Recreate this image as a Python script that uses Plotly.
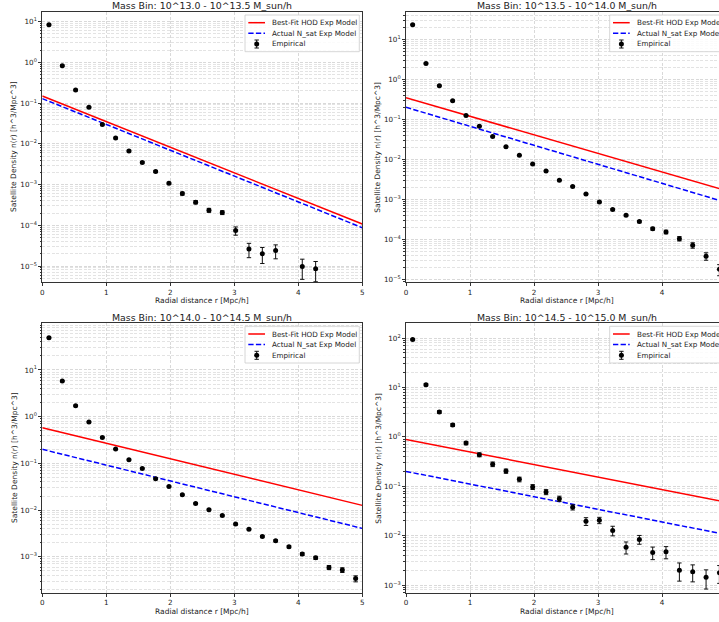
import plotly.graph_objects as go

W, H = 719, 622

# ---------------- data ----------------
r_centers = [0.104, 0.312, 0.521, 0.729, 0.938, 1.146, 1.354, 1.562, 1.771, 1.979,
             2.188, 2.396, 2.604, 2.812, 3.021, 3.229, 3.438, 3.646, 3.854, 4.062,
             4.271, 4.479, 4.688, 4.896]

titles = ["Mass Bin: 10^13.0 - 10^13.5 M_sun/h",
          "Mass Bin: 10^13.5 - 10^14.0 M_sun/h",
          "Mass Bin: 10^14.0 - 10^14.5 M_sun/h",
          "Mass Bin: 10^14.5 - 10^15.0 M_sun/h"]

emp_1 = [8.4, 0.83, 0.21, 0.079, 0.030, 0.0139, 0.0067, 0.0035, 0.0021, 0.00107,
         6.0e-4, 3.7e-4, 2.34e-4, 2.05e-4, 7.4e-5, 2.6e-5, 2.0e-5, 2.4e-5, None, 9.7e-6,
         8.5e-6, None, None, None]
err_1 = [0.25, 0.03, 0.008, 0.003, 0.0012, 0.0006, 0.0003, 0.00017, 0.00012, 0.00007,
         5.0e-5, 3.5e-5, 2.6e-5, 2.2e-5, 1.7e-5, 1.0e-5, 0.85e-5, 0.9e-5, None, 0.5e-5,
         0.44e-5, None, None, None]

emp_2 = [23.3, 2.5, 0.69, 0.29, 0.124, 0.067, 0.037, 0.0207, 0.0126, 0.0076,
         0.0051, 0.0030, 0.0021, 0.00136, 8.6e-4, 5.6e-4, 4.0e-4, 2.77e-4, 1.85e-4, 1.53e-4,
         1.04e-4, 7.1e-5, 3.8e-5, 1.78e-5]
err_2 = [0.5, 0.08, 0.02, 0.008, 0.003, 0.0015, 0.0008, 0.0004, 0.00025, 0.00016,
         0.0001, 7e-5, 5e-5, 4e-5, 3e-5, 2.4e-5, 2.0e-5, 1.7e-5, 1.5e-5, 1.6e-5,
         1.3e-5, 1.1e-5, 0.8e-5, 0.55e-5]

emp_3 = [49.0, 5.8, 1.72, 0.77, 0.36, 0.203, 0.12, 0.078, 0.047, 0.032,
         0.0213, 0.0139, 0.0102, 0.0076, 0.0050, 0.0039, 0.00273, 0.0022, 0.00164, 0.00114,
         9.5e-4, 5.9e-4, 5.2e-4, 3.4e-4]
err_3 = [0.8, 0.15, 0.05, 0.02, 0.009, 0.005, 0.003, 0.002, 0.0012, 0.0009,
         0.0006, 0.0004, 0.0003, 0.00025, 0.0002, 0.00015, 0.00012, 0.0001, 9e-5, 8e-5,
         7e-5, 6e-5, 6e-5, 5e-5]

emp_4 = [94.0, 11.4, 3.2, 1.75, 0.75, 0.435, 0.28, 0.203, 0.138, 0.097,
         0.0766, 0.056, 0.0376, 0.0196, 0.0205, 0.0127, 0.00585, 0.0084, 0.00457, 0.0047,
         0.0020, 0.00186, 0.00143, 0.00178]
err_4 = [3.0, 0.6, 0.2, 0.12, 0.06, 0.04, 0.03, 0.02, 0.015, 0.011,
         0.009, 0.007, 0.0045, 0.0035, 0.003, 0.0028, 0.0016, 0.0017, 0.0013, 0.0013,
         0.0008, 0.0007, 0.0006, 0.0007]

# model line endpoints (r = 0 and r = 5)
line_r = [0.0, 5.0]
bestfit_1 = [0.150, 1.07e-4]
actual_1 = [0.129, 8.7e-5]
bestfit_2 = [0.348, 1.65e-3]
actual_2 = [0.200, 8.4e-4]
bestfit_3 = [0.580, 0.0126]
actual_3 = [0.200, 0.00405]
bestfit_4 = [0.885, 0.048]
actual_4 = [0.200, 0.0105]

x_ticks = [0, 1, 2, 3, 4, 5]
y_exponents_1 = [-5, -4, -3, -2, -1, 0, 1]
y_exponents_2 = [-5, -4, -3, -2, -1, 0, 1]
y_exponents_3 = [-3, -2, -1, 0, 1]
y_exponents_4 = [-3, -2, -1, 0, 1, 2]

legend_labels = ["Best-Fit HOD Exp Model", "Actual N_sat Exp Model", "Empirical"]
x_label = "Radial distance r [Mpc/h]"
y_label = "Satellite Density n(r) [h^3/Mpc^3]"

# ---------------- layout geometry (px) ----------------
FONT = "DejaVu Sans"
TXT = "#222222"
AX = "#333333"
FS = 7.2
FS_LAB = 7.5
FS_T = 9.4

panels = [
    dict(emp=emp_1, err=err_1, red=bestfit_1, blue=actual_1, exps=y_exponents_1,
         yr=[-5.393, 1.237], left=42.3, right=362.3, top=12.0, bottom=282.0, xr=[0, 5]),
    dict(emp=emp_2, err=err_2, red=bestfit_2, blue=actual_2, exps=y_exponents_2,
         yr=[-5.067, 1.683], left=406.0, right=727.0, top=12.0, bottom=282.0, xr=[0, 4.89]),
    dict(emp=emp_3, err=err_3, red=bestfit_3, blue=actual_3, exps=y_exponents_3,
         yr=[-3.77, 2.0], left=42.3, right=362.3, top=323.3, bottom=592.7, xr=[0, 5]),
    dict(emp=emp_4, err=err_4, red=bestfit_4, blue=actual_4, exps=y_exponents_4,
         yr=[-3.155, 2.30], left=406.0, right=727.0, top=323.3, bottom=592.7, xr=[0, 4.89]),
]


def px(x):
    return x / W


def py(y):
    return 1 - y / H


def sup(e):
    s = str(abs(e))
    return "10<sup>" + ("\u2212" if e < 0 else "") + s + "</sup>"


fig = go.Figure()
shapes = []
annotations = []

for i, p in enumerate(panels):
    n = i + 1
    xa = "x" if n == 1 else f"x{n}"
    ya = "y" if n == 1 else f"y{n}"
    xkey = "xaxis" if n == 1 else f"xaxis{n}"
    ykey = "yaxis" if n == 1 else f"yaxis{n}"
    is_right = n in (2, 4)

    fig.add_trace(go.Scatter(x=line_r, y=p["red"], mode="lines",
                             line=dict(color="#ff0000", width=1.5),
                             xaxis=xa, yaxis=ya, showlegend=False))
    fig.add_trace(go.Scatter(x=line_r, y=p["blue"], mode="lines",
                             line=dict(color="#0000ff", width=1.5, dash="5.3px,2.3px"),
                             xaxis=xa, yaxis=ya, showlegend=False))
    fig.add_trace(go.Scatter(x=r_centers, y=p["emp"], mode="markers",
                             marker=dict(color="black", size=5),
                             error_y=dict(type="data", array=p["err"], color="#111111",
                                          thickness=1, width=2.2),
                             xaxis=xa, yaxis=ya, showlegend=False))

    dom_x = [px(p["left"]), min(1.0, px(p["right"]))]
    dom_y = [py(p["bottom"]), py(p["top"])]
    lo, hi = p["exps"][0] - 1, p["exps"][-1] + 2
    minor_vals = [m * 10.0 ** e for e in range(lo, hi) for m in range(2, 10)]

    fig.layout[xkey] = dict(
        domain=dom_x, range=p["xr"], anchor=ya, tickmode="array", tickvals=x_ticks,
        ticktext=[str(t) for t in x_ticks], ticks="outside", ticklen=3, tickwidth=0.8,
        tickcolor=AX, showline=True, linecolor=AX, linewidth=0.9, mirror=True,
        showgrid=True, gridcolor="#d9d9d9", gridwidth=0.6, griddash="3px,1.6px",
        zeroline=False, tickfont=dict(family=FONT, size=FS, color=TXT))
    fig.layout[ykey] = dict(
        domain=dom_y, type="log", range=p["yr"], anchor=xa, tickmode="array",
        tickvals=[10.0 ** e for e in p["exps"]], ticktext=[sup(e) for e in p["exps"]],
        ticks="outside", ticklen=3, tickwidth=0.8, tickcolor=AX,
        showline=True, linecolor=AX, linewidth=0.9, mirror=(not is_right),
        showgrid=True, gridcolor="#d9d9d9", gridwidth=0.6, griddash="3px,1.6px",
        zeroline=False, tickfont=dict(family=FONT, size=FS, color=TXT),
        minor=dict(tickmode="array", tickvals=minor_vals, ticks="outside", ticklen=1.8,
                   tickwidth=0.6, tickcolor=AX, showgrid=True, gridcolor="#e3e3e3",
                   gridwidth=0.5, griddash="3px,1.6px"))

    cx = (p["left"] + p["right"]) / 2
    cy = (p["top"] + p["bottom"]) / 2
    annotations.append(dict(text=titles[i], x=px(cx), y=py(p["top"] - 6.3), xref="paper", yref="paper",
                            xanchor="center", yanchor="middle", showarrow=False,
                            font=dict(family=FONT, size=FS_T, color=TXT)))
    annotations.append(dict(text=x_label, x=px(cx), y=py(p["bottom"] + 18.3), xref="paper",
                            yref="paper", xanchor="center", yanchor="middle", showarrow=False,
                            font=dict(family=FONT, size=FS_LAB, color=TXT)))
    annotations.append(dict(text=y_label, x=px(p["left"] - 28.3), y=py(cy), xref="paper",
                            yref="paper", xanchor="center", yanchor="middle", showarrow=False,
                            textangle=-90, font=dict(family=FONT, size=FS_LAB, color=TXT)))

    # legend box
    bx1 = p["right"] - 3
    bx0 = bx1 - 114.3
    by0 = p["top"] + 3
    by1 = by0 + 36.7
    shapes.append(dict(type="rect", xref="paper", yref="paper", x0=px(bx0), x1=px(bx1),
                       y0=py(by1), y1=py(by0), fillcolor="rgba(255,255,255,0.85)",
                       line=dict(color="#cccccc", width=0.8), layer="above"))
    rows = [by0 + 7.7, by0 + 18.3, by0 + 29.0]
    shapes.append(dict(type="line", xref="paper", yref="paper", x0=px(bx0 + 3.3), x1=px(bx0 + 20),
                       y0=py(rows[0]), y1=py(rows[0]), line=dict(color="#ff0000", width=1.5),
                       layer="above"))
    shapes.append(dict(type="line", xref="paper", yref="paper", x0=px(bx0 + 3.3), x1=px(bx0 + 20),
                       y0=py(rows[1]), y1=py(rows[1]),
                       line=dict(color="#0000ff", width=1.5, dash="5.3px,2.3px"), layer="above"))
    mx = bx0 + 11.7
    shapes.append(dict(type="line", xref="paper", yref="paper", x0=px(mx), x1=px(mx),
                       y0=py(rows[2] - 4), y1=py(rows[2] + 4),
                       line=dict(color="#111111", width=1), layer="above"))
    for dy in (-4, 4):
        shapes.append(dict(type="line", xref="paper", yref="paper", x0=px(mx - 2.2), x1=px(mx + 2.2),
                           y0=py(rows[2] + dy), y1=py(rows[2] + dy),
                           line=dict(color="#111111", width=1), layer="above"))
    shapes.append(dict(type="circle", xref="paper", yref="paper", x0=px(mx - 2.5), x1=px(mx + 2.5),
                       y0=py(rows[2] + 2.5), y1=py(rows[2] - 2.5), fillcolor="black",
                       line=dict(width=0), layer="above"))
    for k, lab in enumerate(legend_labels):
        annotations.append(dict(text=lab, x=px(bx0 + 25), y=py(rows[k]), xref="paper", yref="paper",
                                xanchor="left", yanchor="middle", showarrow=False,
                                font=dict(family=FONT, size=FS, color=TXT)))

fig.update_layout(
    width=W, height=H,
    margin=dict(l=0, r=0, t=0, b=0, autoexpand=False),
    paper_bgcolor="white", plot_bgcolor="white",
    showlegend=False,
    shapes=shapes, annotations=annotations,
    font=dict(family=FONT, size=FS, color=TXT),
)

fig.write_html(
    "out.html",
    config={"displayModeBar": False},
    post_script="document.body.style.margin='0';document.body.style.overflow='hidden';"
                "document.documentElement.style.overflow='hidden';",
)
